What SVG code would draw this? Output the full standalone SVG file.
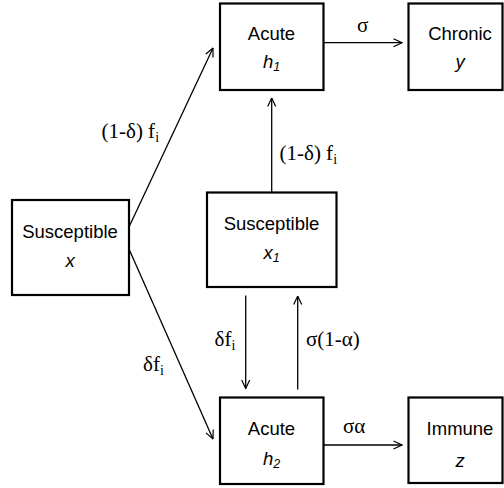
<svg xmlns="http://www.w3.org/2000/svg" width="504" height="488" viewBox="0 0 504 488">
<defs>
<marker id="arr" viewBox="0 0 10 10" refX="9.5" refY="5" markerWidth="10" markerHeight="10" markerUnits="userSpaceOnUse" orient="auto">
<polyline points="1,1 9.5,5 1,9" fill="none" stroke="#000" stroke-width="1.2"/>
</marker>
</defs>
<style>
.box{fill:#fff;stroke:#000;stroke-width:2.2}
.t{font-family:"Liberation Sans",Arial,sans-serif;font-size:18.5px;fill:#000;text-anchor:middle}
.it{font-style:italic}
.sub{font-size:12.5px}
.lab{font-family:"Liberation Serif","Times New Roman",serif;font-size:21px;fill:#000}
.ls{font-size:14px}
.c{fill:none;stroke:#000;stroke-width:1.3}
</style>
<rect width="504" height="488" fill="#fff"/>
<g id="connectors">
<line class="c" x1="129" y1="227" x2="213" y2="48" marker-end="url(#arr)"/>
<line class="c" x1="129" y1="249" x2="213" y2="439" marker-end="url(#arr)"/>
<line class="c" x1="324" y1="42.7" x2="402" y2="42.7" marker-end="url(#arr)"/>
<line class="c" x1="324" y1="445" x2="402" y2="445" marker-end="url(#arr)"/>
<line class="c" x1="271.7" y1="192" x2="271.7" y2="98" marker-end="url(#arr)"/>
<line class="c" x1="245.7" y1="295.5" x2="245.7" y2="388.5" marker-end="url(#arr)"/>
<line class="c" x1="297.7" y1="389.5" x2="297.7" y2="296" marker-end="url(#arr)"/>
<text class="lab" x="101.5" y="138">(1-δ) f<tspan class="ls" dy="4">i</tspan></text>
<text class="lab" x="279.5" y="160">(1-δ) f<tspan class="ls" dy="4">i</tspan></text>
<text class="lab" x="357" y="32">σ</text>
<text class="lab" x="343" y="433">σα</text>
<text class="lab" x="214.5" y="346">δf<tspan class="ls" dy="4">i</tspan></text>
<text class="lab" x="306" y="346">σ(1-α)</text>
<text class="lab" x="143" y="371">δf<tspan class="ls" dy="4">i</tspan></text>
</g>
<g id="acute_h1">
<rect class="box" x="220" y="3.5" width="103.5" height="86.5"/>
<text class="t" x="271.5" y="40">Acute</text>
<text class="t it" x="271.5" y="68">h<tspan class="sub" dy="3">1</tspan></text>
</g>
<g id="chronic_y">
<rect class="box" x="408.5" y="3.5" width="94" height="86.5"/>
<text class="t" x="460" y="40">Chronic</text>
<text class="t it" x="460" y="68">y</text>
</g>
<g id="susceptible_x">
<rect class="box" x="12" y="200" width="117" height="95"/>
<text class="t" x="70" y="238">Susceptible</text>
<text class="t it" x="70" y="266.5">x</text>
</g>
<g id="susceptible_x1">
<rect class="box" x="207" y="192.5" width="129.5" height="94.5"/>
<text class="t" x="271.5" y="230">Susceptible</text>
<text class="t it" x="271.5" y="259">x<tspan class="sub" dy="3">1</tspan></text>
</g>
<g id="acute_h2">
<rect class="box" x="220" y="397.5" width="103.5" height="86.5"/>
<text class="t" x="271.5" y="435">Acute</text>
<text class="t it" x="271.5" y="465">h<tspan class="sub" dy="3">2</tspan></text>
</g>
<g id="immune_z">
<rect class="box" x="408.5" y="397.5" width="94" height="85.5"/>
<text class="t" x="460" y="435">Immune</text>
<text class="t it" x="460" y="467">z</text>
</g>
</svg>
